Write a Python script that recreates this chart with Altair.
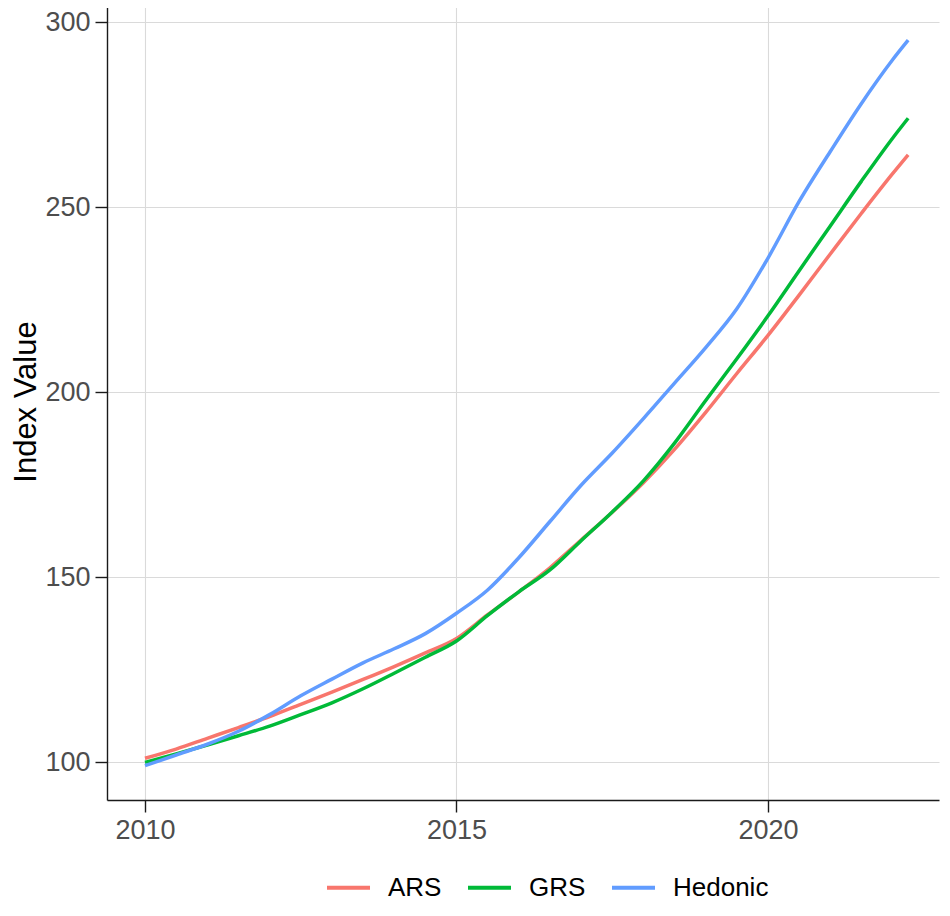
import altair as alt
import pandas as pd

# ---- data (half-yearly, last point 2022.25) ----
years = [2010.0, 2010.5, 2011.0, 2011.5, 2012.0, 2012.5, 2013.0, 2013.5,
         2014.0, 2014.5, 2015.0, 2015.5, 2016.0, 2016.5, 2017.0, 2017.5,
         2018.0, 2018.5, 2019.0, 2019.5, 2020.0, 2020.5, 2021.0, 2021.5,
         2022.0, 2022.25]

ars = [101.0, 103.5, 106.4, 109.3, 112.3, 115.6, 118.9, 122.3,
       125.8, 129.5, 133.4, 139.8, 146.0, 152.5, 160.0, 167.5,
       175.5, 184.5, 194.5, 205.0, 215.3, 226.2, 237.3, 248.3,
       259.0, 264.1]

grs = [99.9, 102.2, 104.6, 107.1, 109.7, 112.8, 116.0, 119.8,
       124.0, 128.3, 132.7, 139.6, 146.0, 151.9, 159.8, 167.6,
       176.0, 186.2, 197.7, 209.0, 220.6, 232.8, 244.9, 257.0,
       268.6, 274.0]

hedonic = [99.0, 101.9, 104.8, 108.3, 112.8, 117.9, 122.4, 126.8,
           130.6, 134.7, 140.2, 146.5, 155.2, 165.0, 174.8, 183.5,
           192.8, 202.4, 212.0, 222.5, 236.2, 251.5, 265.0, 278.0,
           289.8, 295.1]

series_names = ["ARS", "GRS", "Hedonic"]
series_colors = ["#F8766D", "#00BA38", "#619CFF"]
x_ticks = [2010, 2015, 2020]
y_ticks = [100, 150, 200, 250, 300]

rows = []
for name, vals in zip(series_names, [ars, grs, hedonic]):
    for t, v in zip(years, vals):
        rows.append({"time": t, "value": v, "series": name})
df = pd.DataFrame(rows)

FONT = "Liberation Sans"

chart = (
    alt.Chart(df)
    .mark_line(strokeWidth=3.5, interpolate="monotone")
    .encode(
        x=alt.X(
            "time:Q",
            scale=alt.Scale(domain=[2009.39, 2022.745], nice=False, zero=False),
            axis=alt.Axis(values=x_ticks, format="d", title=None),
        ),
        y=alt.Y(
            "value:Q",
            scale=alt.Scale(domain=[89.73, 305.14], nice=False, zero=False),
            axis=alt.Axis(values=y_ticks, title="Index Value", titlePadding=2),
        ),
        color=alt.Color(
            "series:N",
            scale=alt.Scale(domain=series_names, range=series_colors),
            legend=alt.Legend(
                title=None,
                orient="none",
                direction="horizontal",
                legendX=218,
                legendY=861,
                symbolType="stroke",
                symbolSize=1849,
                symbolStrokeWidth=4,
                labelFontSize=26,
                labelFont=FONT,
                labelColor="#000000",
                labelOffset=16,
                columnPadding=18,
            ),
        ),
    )
    .properties(
        width=832,
        height=797,
        autosize=alt.AutoSizeParams(type="none"),
        padding={"left": 99, "top": -5, "right": 3, "bottom": 102},
    )
    .configure_view(stroke=None)
    .configure_axis(
        labelFont=FONT,
        labelFontSize=27,
        labelColor="#4D4D4D",
        titleFont=FONT,
        titleFontSize=31,
        titleFontWeight="normal",
        titleColor="#000000",
        domainColor="#1a1a1a",
        domainWidth=1.4,
        tickColor="#1a1a1a",
        tickWidth=1.4,
        tickSize=12,
        labelPadding=5,
        gridColor="#DADADA",
        gridWidth=1.1,
    )
)

chart.save("out.html", embed_options={"renderer": "svg", "actions": False})
